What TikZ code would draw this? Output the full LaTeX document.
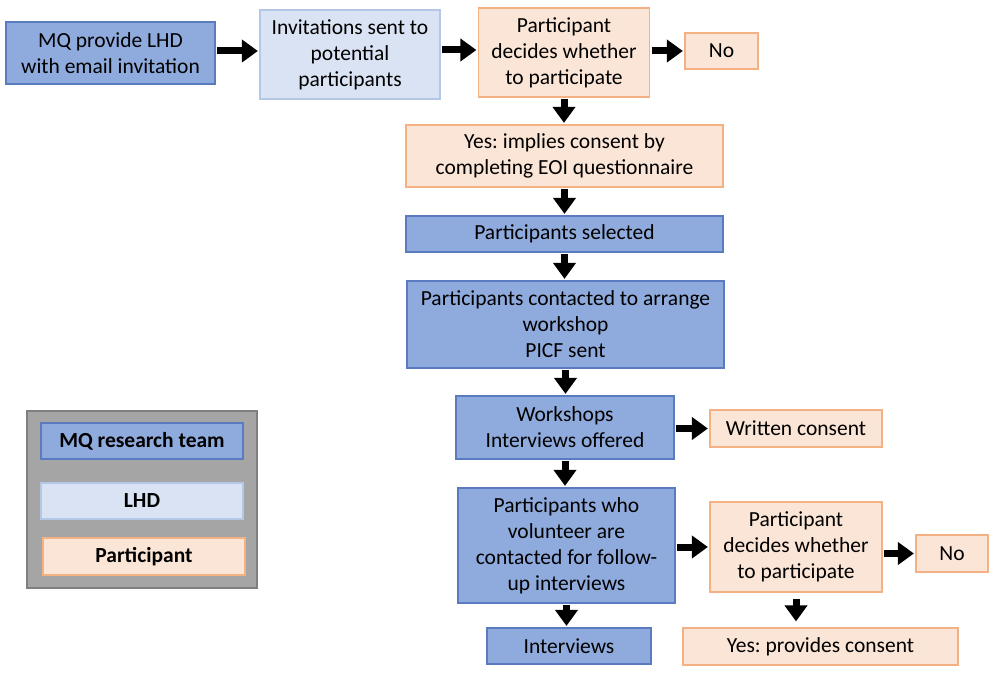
\documentclass[tikz,border=0pt]{standalone}
\usepackage{fontspec}
\setmainfont{Carlito}
\usetikzlibrary{arrows.meta}
\frenchspacing
\definecolor{mqfill}{HTML}{8FAADC}
\definecolor{mqline}{HTML}{5B7BC0}
\definecolor{lhdfill}{HTML}{DAE3F3}
\definecolor{lhdline}{HTML}{B4C7E7}
\definecolor{partfill}{HTML}{FBE5D6}
\definecolor{partline}{HTML}{F4B183}
\definecolor{keyfill}{HTML}{A5A5A5}
\definecolor{keyline}{HTML}{7F7F7F}
\tikzset{
    box/.style={rectangle, draw, line width=1.2pt, align=center, inner sep=0pt,
        font=\fontsize{21.5}{26}\selectfont},
    mqbox/.style={box, fill=mqfill, draw=mqline},
    lhdbox/.style={box, fill=lhdfill, draw=lhdline},
    partbox/.style={box, fill=partfill, draw=partline},
    keybox/.style={font=\fontsize{21.5}{26}\selectfont\bfseries},
    flow/.style={line width=7pt, -{Triangle[length=16pt,width=22pt]},
        shorten <=1.5pt, shorten >=1.5pt}
}

\begin{document}
\begin{tikzpicture}[x=1pt,y=-1pt]
    \useasboundingbox (0,0) rectangle (989,677);
    % set up the nodes
    \node[mqbox, minimum width=209pt, minimum height=62pt] (mq) at (110.5,53) {MQ provide LHD\\with email invitation};
    \node[lhdbox, minimum width=180pt, minimum height=89pt] (inv) at (350,54.5) {Invitations sent to\\potential\\participants};
    \node[partbox, minimum width=171pt, minimum height=89pt] (dec) at (564,52.5) {Participant\\decides whether\\to participate};
    \node[partbox, minimum width=73pt, minimum height=36pt] (no) at (721.5,51) {No};
    \node[partbox, minimum width=317pt, minimum height=62pt] (yes) at (564.5,156) {Yes: implies consent by\\completing EOI questionnaire};
    \node[mqbox, minimum width=317pt, minimum height=36pt] (sel) at (564.5,234) {Participants selected};
    \node[mqbox, minimum width=317pt, minimum height=87pt] (cont) at (565.5,324.5) {Participants contacted to arrange\\workshop\\PICF sent};
    \node[mqbox, minimum width=218pt, minimum height=63pt] (work) at (565,427.5) {Workshops\\Interviews offered};
    \node[partbox, minimum width=172pt, minimum height=37pt] (written) at (796,428.5) {Written consent};
    \node[mqbox, minimum width=217pt, minimum height=115pt] (vol) at (566.5,545.5) {Participants who\\volunteer are\\contacted for follow-\\up interviews};
    \node[partbox, minimum width=172pt, minimum height=90pt] (dec2) at (796,547) {Participant\\decides whether\\to participate};
    \node[partbox, minimum width=72pt, minimum height=37pt] (no2) at (952,553.5) {No};
    \node[mqbox, minimum width=164pt, minimum height=36pt] (intv) at (569,646) {Interviews};
    \node[partbox, minimum width=275pt, minimum height=37pt] (yes2) at (820.5,646.5) {Yes: provides consent};

    % the key
    \node[rectangle, draw=keyline, fill=keyfill, line width=1.2pt, minimum width=230pt, minimum height=177pt] (key) at (142,499.5) {};
    \node[mqbox, keybox, minimum width=202pt, minimum height=36pt] (keymq) at (142,441) {MQ research team};
    \node[lhdbox, keybox, minimum width=202pt, minimum height=36pt] (keylhd) at (142,501) {LHD};
    \node[partbox, keybox, minimum width=202pt, minimum height=37pt] (keypart) at (144,556.5) {Participant};

    % draw arrows between them
    \draw[flow] (mq.east |- 0,51) -- (inv.west |- 0,51);
    \draw[flow] (inv.east |- 0,50) -- (dec.west |- 0,50);
    \draw[flow] (dec.east |- no) -- (no.west);
    \draw[flow] (dec.south) -- (dec.south |- yes.north);
    \draw[flow] (yes.south) -- (yes.south |- sel.north);
    \draw[flow] (sel.south) -- (sel.south |- cont.north);
    \draw[flow] (cont.south) -- (cont.south |- work.north);
    \draw[flow] (work.east |- written) -- (written.west);
    \draw[flow] (work.south) -- (work.south |- vol.north);
    \draw[flow] (vol.east |- dec2) -- (dec2.west |- dec2);
    \draw[flow] (dec2.east |- no2) -- (no2.west);
    \draw[flow] (vol.south) -- (vol.south |- intv.north);
    \draw[flow, shorten <=6pt, shorten >=6pt] (dec2.south) -- (dec2.south |- yes2.north);

\end{tikzpicture}
\end{document}
